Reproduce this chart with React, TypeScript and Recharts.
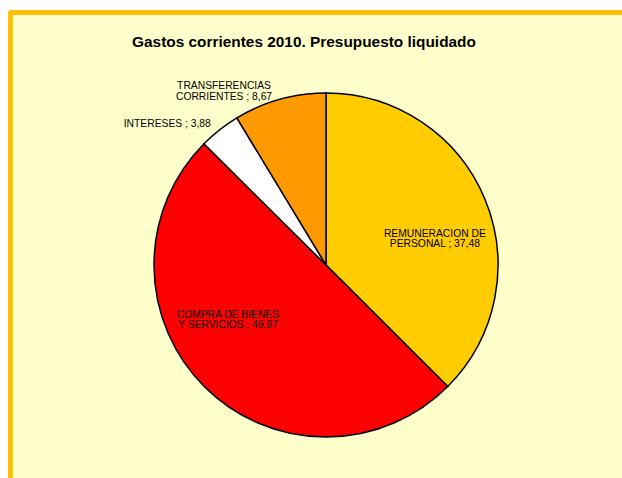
import { PieChart, Pie, Cell } from 'recharts';

const categories = [
  'REMUNERACION DE\nPERSONAL',
  'COMPRA DE BIENES\nY SERVICIOS',
  'INTERESES',
  'TRANSFERENCIAS\nCORRIENTES',
];
const values = [37.48, 49.97, 3.88, 8.67];
const colors = ['#FFCC00', '#FF0000', '#FFFFFF', '#FF9900'];

// where Excel put each label: angle (deg) and distance as a share of the radius
const labelAngle = [13.9, 208.9, 138.2, 120.3];
const labelDist = [0.652, 0.65, 1.238, 1.175];

const data = categories.map((name, i) => ({ name, value: values[i] }));

const FONT = '"Liberation Sans", Arial, sans-serif';

const renderLabel = (props: any) => {
  const { cx, cy, outerRadius, index } = props;
  const a = (labelAngle[index] * Math.PI) / 180;
  const r = outerRadius * labelDist[index];
  const x = cx + r * Math.cos(a);
  const y = cy - r * Math.sin(a);
  const text = `${categories[index]} ; ${values[index].toFixed(2).replace('.', ',')}`;
  const lines = text.split('\n');
  const lh = 10.6;
  const y0 = y - ((lines.length - 1) * lh) / 2;
  return (
    <text
      x={x}
      y={y0}
      textAnchor="middle"
      dominantBaseline="central"
      fontFamily={FONT}
      fontSize={10.3}
      fill="#000"
    >
      {lines.map((l, i) => (
        <tspan key={i} x={x} y={y0 + i * lh}>
          {l}
        </tspan>
      ))}
    </text>
  );
};

export default function App() {
  return (
    <div style={{ position: 'fixed', left: 0, top: 0, width: 622, height: 478, background: '#fff', overflow: 'hidden' }}>
      <div
        style={{
          position: 'absolute',
          left: 8,
          top: 10,
          width: 700,
          height: 600,
          background: '#FFFFCC',
          borderLeft: '5px solid #FFC000',
          borderTop: '5px solid #FFC000',
          borderTopLeftRadius: 4,
        }}
      />
      <div
        style={{
          position: 'absolute',
          left: 0,
          top: 33,
          width: 608,
          textAlign: 'center',
          fontFamily: FONT,
          fontWeight: 'bold',
          fontSize: 15.4,
          lineHeight: '17px',
          color: '#000',
        }}
      >
        Gastos corrientes 2010. Presupuesto liquidado
      </div>
      <div style={{ position: 'absolute', left: 0, top: 0 }}>
        <PieChart width={622} height={478} margin={{ top: 0, right: 0, bottom: 0, left: 0 }}>
          <Pie
            data={data}
            dataKey="value"
            nameKey="name"
            cx={326}
            cy={265}
            outerRadius={172}
            startAngle={90}
            endAngle={-270}
            stroke="#000"
            strokeWidth={1.5}
            label={renderLabel}
            labelLine={false}
            isAnimationActive={false}
          >
            {data.map((entry, index) => (
              <Cell key={`cell-${index}`} fill={colors[index]} />
            ))}
          </Pie>
        </PieChart>
      </div>
    </div>
  );
}
